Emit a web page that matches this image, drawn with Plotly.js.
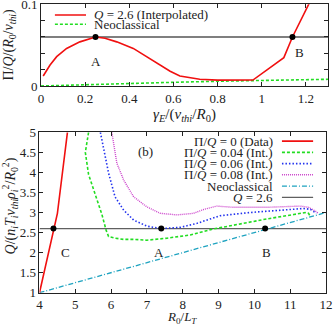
<!DOCTYPE html>
<html>
<head>
<meta charset="utf-8">
<script src="https://cdn.plot.ly/plotly-3.0.1.min.js"></script>
<style>
  body { margin: 0; padding: 0; background: #fff; }
  #plotArea { width: 333px; height: 326px; }
</style>
</head>
<body>
<div id="plotArea"></div>
<script>
////////////////////////////////////////////////////////
// Data - panel (a): momentum flux vs flow shear
////////////////////////////////////////////////////////

var gammaE = [0.01, 0.041, 0.071, 0.116, 0.176, 0.222, 0.247, 0.29, 0.343, 0.418, 0.48, 0.538,
  0.585, 0.629, 0.68, 0.719, 0.8, 0.9, 0.96, 1.10, 1.139, 1.22];
var piQInterp = [0.0122, 0.0257, 0.0359, 0.046, 0.054, 0.058, 0.060, 0.0585, 0.054, 0.046, 0.036, 0.0257,
  0.018, 0.0122, 0.0095, 0.0082, 0.0072, 0.0070, 0.0073, 0.0347, 0.060, 0.104];

var gammaNeo = [0, 0.2, 0.4, 0.6, 0.8, 1.0, 1.2, 1.3];
var piQNeo = [0, 0.0012, 0.0028, 0.0045, 0.0058, 0.0068, 0.0077, 0.0082];

var piQLevel = 0.06;
var gammaRange = [0, 1.3];
var pointsTopX = [0.247, 1.139];
var pointsTopY = [0.06, 0.06];

////////////////////////////////////////////////////////
// Data - panel (b): heat flux vs temperature gradient
////////////////////////////////////////////////////////

var gradData = [4.0, 4.5, 4.78];
var qData = [1.0, 2.98, 5.0];

var grad004 = [5.37, 5.32, 5.28, 5.37, 5.56, 5.74, 5.86, 5.93, 6.11, 6.35, 6.63, 7.0, 7.56, 8.21,
  8.8, 9.42, 10.35, 11.1, 11.42, 11.51, 11.56];
var q004 = [5.0, 4.75, 4.5, 3.95, 3.45, 2.96, 2.56, 2.40, 2.36, 2.33, 2.33, 2.31, 2.36, 2.44,
  2.58, 2.69, 2.84, 2.95, 3.0, 2.98, 2.91];

var grad006 = [5.70, 5.79, 5.93, 6.11, 6.35, 6.63, 7.0, 7.4, 7.93, 8.4, 8.77, 9.04, 9.88, 10.82,
  11.37, 11.56, 11.73];
var q006 = [5.0, 4.56, 3.98, 3.39, 3.06, 2.81, 2.66, 2.60, 2.63, 2.73, 2.84, 2.92, 3.0, 3.06,
  3.10, 3.08, 2.98];

var grad008 = [6.02, 6.16, 6.35, 6.63, 7.0, 7.37, 7.84, 8.30, 8.6, 8.95, 9.42, 10.35, 11.28,
  11.51, 11.73, 11.79];
var q008 = [5.0, 4.23, 3.81, 3.39, 3.14, 2.98, 2.94, 2.98, 3.08, 3.16, 3.13, 3.13, 3.16,
  3.13, 3.02, 2.98];

var gradNeo = [4, 6, 8, 10, 12];
var qNeo = [1, 1.5, 2, 2.5, 3];

var qLevel = 2.6;
var gradRange = [4, 12];
var pointsBotX = [4.39, 7.4, 10.3];
var pointsBotY = [2.6, 2.6, 2.6];

var legendBot = ["Π/<i>Q</i> = 0 (Data)", "Π/<i>Q</i> = 0.04 (Int.)", "Π/<i>Q</i> = 0.06 (Int.)",
  "Π/<i>Q</i> = 0.08 (Int.)", "Neoclassical", "<i>Q</i> = 2.6"];
var legendTop = ["<i>Q</i> = 2.6 (Interpolated)", "Neoclassical"];

////////////////////////////////////////////////////////
// Styles
////////////////////////////////////////////////////////

var serif = "Liberation Serif, DejaVu Serif, serif";
var red = "#f01010";
var green = "#22dd22";
var blue = "#2233ee";
var magenta = "#cc44cc";
var cyan = "#1ea3c0";
var grey = "#606060";

var styleTop = [
  {color: red, width: 1.6, dash: "solid"},
  {color: green, width: 1.6, dash: "3px,2px"}
];
var styleBot = [
  {color: red, width: 1.6, dash: "solid"},
  {color: green, width: 1.6, dash: "3px,2px"},
  {color: blue, width: 1.6, dash: "1.5px,2px"},
  {color: magenta, width: 1.4, dash: "1px,1px"},
  {color: cyan, width: 1.3, dash: "5px,2px,1px,2px"},
  {color: grey, width: 1.3, dash: "solid"}
];

////////////////////////////////////////////////////////
// Traces
////////////////////////////////////////////////////////

function line(x, y, st, xa, ya) {
  return {x: x, y: y, type: "scatter", mode: "lines", xaxis: xa, yaxis: ya,
    line: {color: st.color, width: st.width, dash: st.dash}, hoverinfo: "skip"};
}

var data = [
  line(gammaRange, [piQLevel, piQLevel], {color: "#000", width: 1.1, dash: "solid"}, "x", "y"),
  line(gammaNeo, piQNeo, styleTop[1], "x", "y"),
  line(gammaE, piQInterp, styleTop[0], "x", "y"),
  {x: pointsTopX, y: pointsTopY, type: "scatter", mode: "markers", xaxis: "x", yaxis: "y",
    marker: {color: "#000", size: 6}},

  line(gradRange, [qLevel, qLevel], styleBot[5], "x2", "y2"),
  line(gradNeo, qNeo, styleBot[4], "x2", "y2"),
  line(grad008, q008, styleBot[3], "x2", "y2"),
  line(grad006, q006, styleBot[2], "x2", "y2"),
  line(grad004, q004, styleBot[1], "x2", "y2"),
  line(gradData, qData, styleBot[0], "x2", "y2"),
  {x: pointsBotX, y: pointsBotY, type: "scatter", mode: "markers", xaxis: "x2", yaxis: "y2",
    marker: {color: "#000", size: 6}}
];

////////////////////////////////////////////////////////
// Hand-made legends (sample line on the left on top, on the right below)
////////////////////////////////////////////////////////

var shapes = [];
var annotations = [];
var textFont = {family: serif, size: 13, color: "#222"};
var titleFont = {family: serif, size: 15, color: "#222"};
var yTitleFont = {family: serif, size: 14, color: "#222"};

var topRows = [0.0869, 0.0755];
legendTop.forEach(function (txt, i) {
  shapes.push({type: "line", xref: "x", yref: "y", x0: 0.063, x1: 0.204, y0: topRows[i], y1: topRows[i],
    line: styleTop[i]});
  annotations.push({xref: "x", yref: "y", x: 0.232, y: topRows[i], text: txt, showarrow: false,
    xanchor: "left", yanchor: "middle", font: textFont});
});

var botRows = [4.78, 4.50, 4.22, 3.94, 3.66, 3.38];
legendBot.forEach(function (txt, i) {
  shapes.push({type: "line", xref: "x2", yref: "y2", x0: 10.77, x1: 11.64, y0: botRows[i], y1: botRows[i],
    line: styleBot[i]});
  annotations.push({xref: "x2", yref: "y2", x: 10.58, y: botRows[i], text: txt, showarrow: false,
    xanchor: "right", yanchor: "middle", font: textFont});
});

// point labels
[["A", "x", "y", 0.25, 0.03], ["B", "x", "y", 1.17, 0.041],
 ["C", "x2", "y2", 4.73, 2.0], ["A", "x2", "y2", 7.34, 2.0], ["B", "x2", "y2", 10.33, 2.0],
 ["(b)", "x2", "y2", 6.95, 4.52]].forEach(function (a) {
  annotations.push({text: a[0], xref: a[1], yref: a[2], x: a[3], y: a[4], showarrow: false, font: textFont});
});

// axis titles, placed by hand (standoff is ignored without automargin)
[["<i>γ<sub>E</sub></i>/(<i>v<sub>thi</sub></i>/<i>R</i><sub>0</sub>)", 0.502, 0.616, 0, titleFont],
 ["Π/<i>Q</i>/(<i>R</i><sub>0</sub>/<i>v<sub>thi</sub></i>)", -0.102, 0.858, -90, yTitleFont],
 ["<i>R</i><sub>0</sub>/<i>L<sub>T</sub></i>", 0.495, -0.086, 0, textFont],
 ["<i>Q</i>/(<i>n<sub>i</sub>T<sub>i</sub>v<sub>thi</sub>ρ<sub>i</sub></i><sup>2</sup>/<i>R</i><sub>0</sub><sup>2</sup>)", -0.100, 0.30, -90, yTitleFont]
].forEach(function (t) {
  annotations.push({text: t[0], xref: "paper", yref: "paper", x: t[1], y: t[2], textangle: t[3],
    xanchor: "center", yanchor: "middle", showarrow: false, font: t[4]});
});

////////////////////////////////////////////////////////
// Layout
////////////////////////////////////////////////////////

var axisBase = {
  showline: true, linecolor: "#222", linewidth: 1, mirror: "allticks",
  ticks: "inside", ticklen: 4, tickcolor: "#222", showgrid: false, zeroline: false,
  ticklabeloverflow: "allow",
  tickfont: {family: serif, size: 13, color: "#222"}, fixedrange: true
};

function axis(extra) {
  return Object.assign({}, axisBase, extra);
}

var layout = {
  width: 333, height: 326,
  margin: {l: 39, r: 5, t: 4, b: 33},
  paper_bgcolor: "#fff", plot_bgcolor: "#fff",
  showlegend: false,
  font: {family: serif, size: 12, color: "#222"},
  xaxis: axis({domain: [0.0069, 1], range: gammaRange, anchor: "y",
    tickvals: [0, 0.2, 0.4, 0.6, 0.8, 1, 1.2], ticktext: ["0", "0.2", "0.4", "0.6", "0.8", "1", "1.2"]}),
  yaxis: axis({domain: [0.7163, 0.999], range: [0, 0.1], anchor: "x",
    tickvals: [0, 0.02, 0.04, 0.06, 0.08, 0.1], ticktext: ["0", "", "", "", "", "0.1"]}),
  xaxis2: axis({domain: [0.0017, 0.9931], range: gradRange, anchor: "y2", dtick: 1}),
  yaxis2: axis({domain: [0.001, 0.556], range: [1, 5], anchor: "x2", dtick: 0.5}),
  shapes: shapes,
  annotations: annotations
};

Plotly.newPlot("plotArea", data, layout, {displayModeBar: false, staticPlot: true});
</script>
</body>
</html>
